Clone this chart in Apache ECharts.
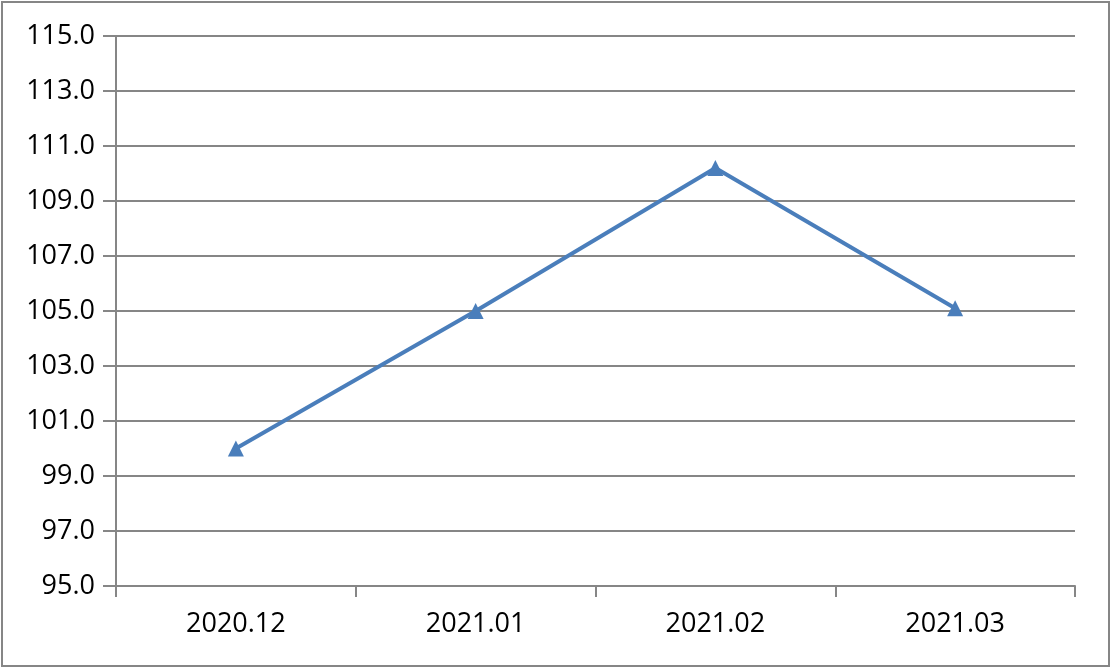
<!DOCTYPE html>
<html>
<head>
<meta charset="utf-8">
<script src="https://cdn.jsdelivr.net/npm/echarts@6/dist/echarts.min.js"></script>
<style>
html,body{margin:0;padding:0;background:#fff;}
#chart{width:1111px;height:668px;}
</style>
</head>
<body>
<div id="chart"></div>
<script>
const categories = ['2020.12', '2021.01', '2021.02', '2021.03'];
const values = [100.0, 105.0, 110.2, 105.1];
const yMin = 95, yMax = 115, yStep = 2;

const chart = echarts.init(document.getElementById('chart'), null, {renderer: 'canvas'});
const gray = '#868686';
const font = 'Open Sans';
chart.setOption({
  animation: false,
  backgroundColor: '#fff',
  graphic: [{
    type: 'rect',
    shape: {x: 2, y: 2, width: 1107, height: 664},
    style: {fill: 'none', stroke: gray, lineWidth: 2},
    silent: true
  }],
  grid: {left: 116, right: 36, top: 36, bottom: 82, containLabel: false},
  xAxis: {
    type: 'category',
    data: categories,
    boundaryGap: true,
    axisLine: {show: true, lineStyle: {color: gray, width: 2}},
    axisTick: {show: true, alignWithLabel: false, length: 11, lineStyle: {color: gray, width: 2}},
    axisLabel: {color: '#000', fontFamily: font, fontSize: 27, margin: 25},
    splitLine: {show: false}
  },
  yAxis: {
    type: 'value',
    min: yMin, max: yMax, interval: yStep,
    axisLine: {show: true, lineStyle: {color: gray, width: 2}},
    axisTick: {show: true, length: 13, lineStyle: {color: gray, width: 2}},
    axisLabel: {color: '#000', fontFamily: font, fontSize: 27, margin: 21,
      formatter: v => v.toFixed(1)},
    splitLine: {show: true, lineStyle: {color: gray, width: 2}}
  },
  series: [{
    type: 'line',
    data: values,
    symbol: 'triangle',
    symbolSize: 16,
    lineStyle: {color: '#4a7ebb', width: 4},
    itemStyle: {color: '#4a7ebb'},
    label: {show: false}
  }]
});
</script>
</body>
</html>
